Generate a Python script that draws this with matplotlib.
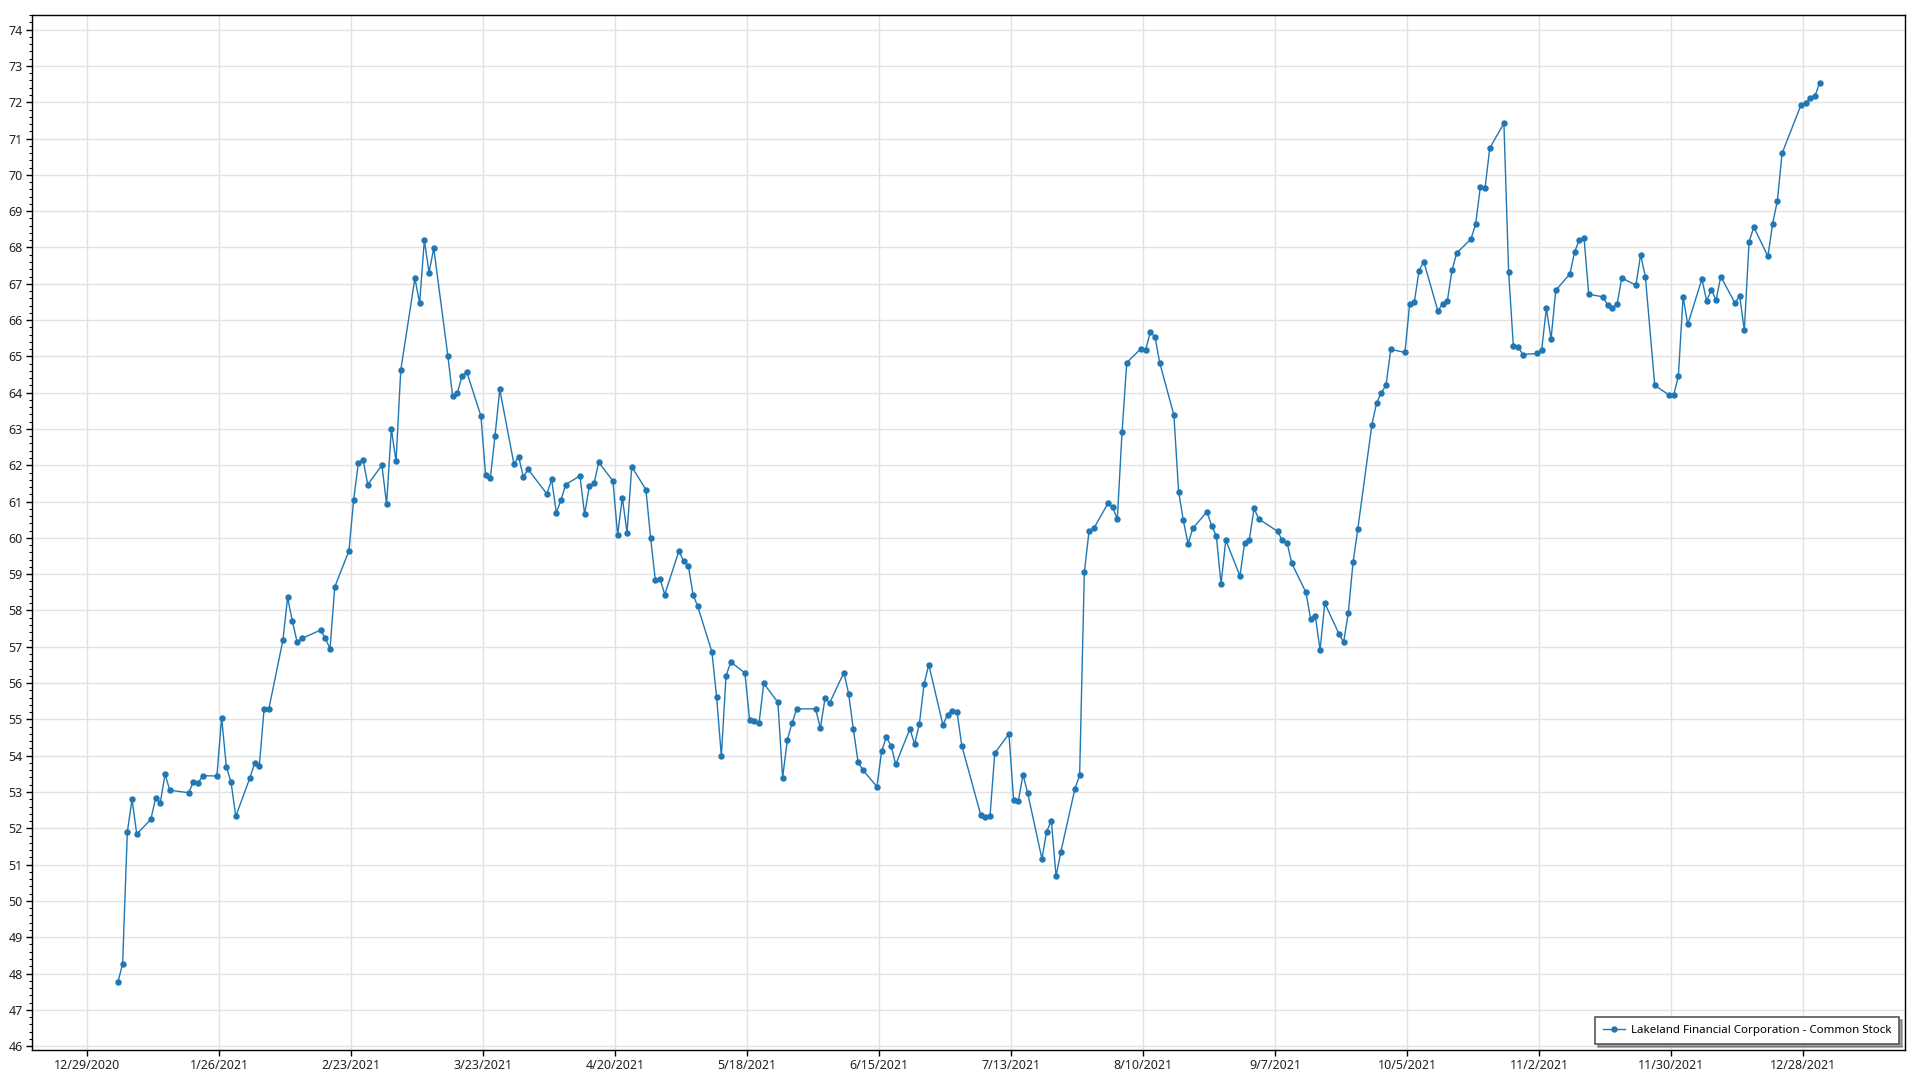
import matplotlib
matplotlib.use("Agg")
import matplotlib.pyplot as plt
import matplotlib.dates as mdates
import matplotlib.ticker as ticker
import pandas as pd

plt.rcParams["font.family"] = ["Noto Sans", "DejaVu Sans"]

# NYSE holidays 2021 (no trading on these days)
holidays = ["2021-01-18", "2021-02-15", "2021-04-02", "2021-05-31",
            "2021-07-05", "2021-09-06", "2021-11-25", "2021-12-24"]

# closing prices per month
jan = [47.76, 48.27, 51.90, 52.80, 51.84, 52.25, 52.83, 52.71, 53.49, 53.05,
       52.98, 53.27, 53.24, 53.45, 53.44, 55.05, 53.70, 53.27, 52.33]
feb = [53.39, 53.79, 53.72, 55.28, 55.28, 57.18, 58.36, 57.71, 57.14, 57.23,
       57.46, 57.23, 56.95, 58.65, 59.64, 61.04, 62.06, 62.15, 61.47]
mar = [62.00, 60.93, 63.00, 62.11, 64.62, 67.15, 66.47, 68.20, 67.31, 67.98,
       65.00, 63.91, 63.99, 64.46, 64.57, 63.36, 61.72, 61.65, 62.82, 64.09,
       62.04, 62.24, 61.68]
apr = [61.89, 61.21, 61.61, 60.69, 61.05, 61.47, 61.71, 60.65, 61.42, 61.51,
       62.08, 61.57, 60.08, 61.11, 60.14, 61.96, 61.33, 59.99, 58.84, 58.87,
       58.44]
may = [59.64, 59.36, 59.23, 58.44, 58.11, 56.86, 55.62, 53.99, 56.20, 56.58,
       56.28, 54.98, 54.95, 54.90, 55.99, 55.47, 53.39, 54.44, 54.90, 55.29]
jun = [55.29, 54.76, 55.58, 55.46, 56.29, 55.71, 54.73, 53.83, 53.61, 53.15,
       54.12, 54.52, 54.27, 53.76, 54.74, 54.32, 54.87, 55.97, 56.51, 54.85,
       55.13, 55.23]
jul = [55.20, 54.28, 52.38, 52.31, 52.35, 54.07, 54.60, 52.78, 52.75, 53.48,
       52.96, 51.16, 51.91, 52.21, 50.68, 51.34, 53.09, 53.46, 59.05, 60.19,
       60.26]
aug = [60.95, 60.84, 60.52, 62.92, 64.83, 65.21, 65.18, 65.67, 65.53, 64.82,
       63.38, 61.27, 60.48, 59.84, 60.26, 60.72, 60.34, 60.05, 58.72, 59.94,
       58.95, 59.86]
sep = [59.95, 60.81, 60.52, 60.18, 59.93, 59.87, 59.30, 58.50, 57.77, 57.84,
       56.91, 58.20, 57.36, 57.13, 57.94, 59.33, 60.24, 63.12, 63.72, 64.00,
       64.21]
oct_ = [65.19, 65.11, 66.43, 66.50, 67.36, 67.61, 66.25, 66.45, 66.53, 67.38,
        67.85, 68.23, 68.64, 69.67, 69.64, 70.74, 71.42, 67.32, 65.29, 65.26,
        65.05]
nov = [65.08, 65.17, 66.32, 65.48, 66.82, 67.27, 67.88, 68.21, 68.25, 66.71,
       66.64, 66.41, 66.34, 66.43, 67.16, 66.96, 67.80, 67.20, 64.20, 63.94,
       63.93]
dec = [64.45, 66.64, 65.88, 67.13, 66.53, 66.84, 66.55, 67.20, 66.47, 66.67,
       65.72, 68.15, 68.56, 67.76, 68.66, 69.28, 70.59, 71.92, 71.98, 72.12,
       72.18, 72.54]

prices = jan + feb + mar + apr + may + jun + jul + aug + sep + oct_ + nov + dec
# the source chart stamps each close at midday
dates = pd.bdate_range("2021-01-04", "2021-12-31", freq="C",
                       holidays=holidays) + pd.Timedelta(hours=12)

tick_dates = pd.date_range("2020-12-29", periods=14, freq="28D")


def date_label(x, pos):
    d = mdates.num2date(x)
    return f"{d.month}/{d.day}/{d.year}"


fig = plt.figure(figsize=(19.2, 10.8), dpi=100)
ax = fig.add_axes([0.0168, 0.028, 0.9754, 0.958])

ax.plot(dates, prices, color="#1f77b4", linewidth=1.0, marker="o",
        markersize=3.6, label="Lakeland Financial Corporation - Common Stock")

ax.set_xlim(pd.Timestamp("2020-12-17 08:00"), pd.Timestamp("2022-01-18 14:00"))
ax.set_ylim(45.9, 74.4)

ax.set_xticks(tick_dates)
ax.xaxis.set_major_formatter(ticker.FuncFormatter(date_label))
ax.yaxis.set_major_locator(ticker.MultipleLocator(1))
ax.yaxis.set_minor_locator(ticker.MultipleLocator(0.2))
ax.tick_params(axis="both", which="major", labelsize=9, colors="#000000",
               labelcolor="#222222", length=4, width=1, pad=3)
ax.tick_params(axis="y", which="minor", length=2, width=0.8)

ax.grid(True, which="major", color="#e2e2e2", linewidth=1.0)
ax.set_axisbelow(True)
for s in ax.spines.values():
    s.set_color("#000000")
    s.set_linewidth(1.0)

leg = ax.legend(loc="lower right", fontsize=8.3, frameon=True, fancybox=False,
                shadow=True, borderpad=0.7, handlelength=1.9, handletextpad=0.5,
                bbox_to_anchor=(1.0, 0.0))
leg.get_frame().set_edgecolor("#555555")
leg.get_frame().set_linewidth(1.2)

fig.savefig("out.png", dpi=100)
